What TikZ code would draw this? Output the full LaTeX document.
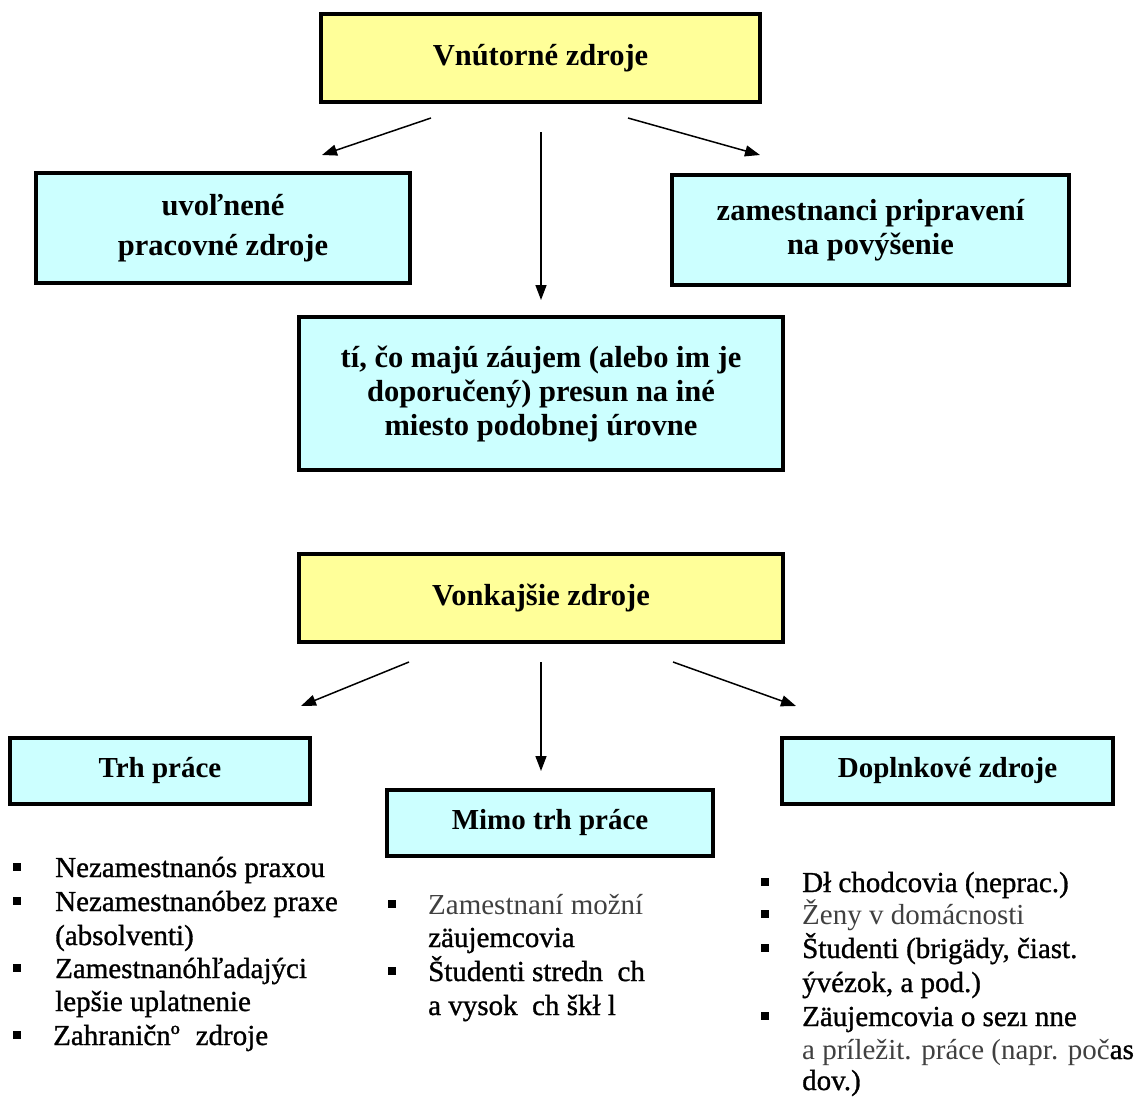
\documentclass[tikz,border=0pt]{standalone}
\usepackage{fontspec}
\setmainfont{Liberation Serif}
\newfontfamily\heavyfont[FakeBold=1]{Liberation Serif}
\usetikzlibrary{arrows.meta}
\definecolor{boxyellow}{HTML}{FFFF99}
\definecolor{boxcyan}{HTML}{CCFFFF}
\definecolor{thintext}{HTML}{404040}
\begin{document}
\begin{tikzpicture}[x=1pt,y=-1pt,
  box/.style={draw=black, line width=3.2pt, inner sep=0pt, align=center, font=\fontsize{30.5}{34}\selectfont\bfseries},
  hdr/.style={box, fill=boxyellow},
  sub/.style={box, fill=boxcyan},
  cat/.style={box, fill=boxcyan, font=\fontsize{29}{33}\selectfont\bfseries},
  arr/.style={line width=1.5pt, -{Triangle[length=15pt,width=11pt]}},
  listitem/.style={anchor=base west, inner sep=0pt, font=\fontsize{29}{33}\selectfont\heavyfont},
  greyitem/.style={anchor=base west, inner sep=0pt, font=\fontsize{29}{33}\selectfont, text=thintext},
  sqbullet/.style={fill=black, minimum size=8pt, inner sep=0pt}
]
\useasboundingbox (0,0) rectangle (1136,1098);
\fill[white] (0,0) rectangle (1136,1098);

% internal sources
\node[hdr, minimum width=439pt, minimum height=88pt] (vz) at (540.5,58) {Vnútorné zdroje};
\node[sub, minimum width=374pt, minimum height=110pt] (uv) at (223,228) {uvoľnené\\[6pt]pracovné zdroje};
\node[sub, minimum width=397pt, minimum height=110pt] (zp) at (870.5,230) {zamestnanci pripravení\\na povýšenie};
\node[sub, minimum width=484pt, minimum height=153pt] (ti) at (541,393.5) {tí, čo majú záujem (alebo im je\\doporučený) presun na iné\\miesto podobnej úrovne};

\coordinate (a1s) at (431,118); \coordinate (a1e) at (322,155);
\coordinate (a2s) at (541,132); \coordinate (a2e) at (541,300);
\coordinate (a3s) at (628,118); \coordinate (a3e) at (760,155);
\draw[arr] (a1s) -- (a1e);
\draw[arr] (a2s) -- (a2e);
\draw[arr] (a3s) -- (a3e);

% external sources
\node[hdr, minimum width=484pt, minimum height=88pt] (vk) at (541,598) {Vonkajšie zdroje};
\node[cat, minimum width=300pt, minimum height=66pt] (trh) at (160,771) {Trh práce};
\node[cat, minimum width=326pt, minimum height=66pt] (mimo) at (550,823) {Mimo trh práce};
\node[cat, minimum width=331pt, minimum height=66pt] (dop) at (947.5,771) {Doplnkové zdroje};

\coordinate (b1s) at (409,662); \coordinate (b1e) at (301,706);
\coordinate (b2s) at (541,662); \coordinate (b2e) at (541,771);
\coordinate (b3s) at (673,662); \coordinate (b3e) at (796,706);
\draw[arr] (b1s) -- (b1e);
\draw[arr] (b2s) -- (b2e);
\draw[arr] (b3s) -- (b3e);

% left list
\node[sqbullet] (lb1) at (17,867) {};
\node[sqbullet] (lb2) at (17,901) {};
\node[sqbullet] (lb3) at (17,968) {};
\node[sqbullet] (lb4) at (17,1035) {};
\node[listitem] (l1) at (55,877) {Nezamestnanós praxou};
\node[listitem] (l2) at (55,911) {Nezamestnanóbez praxe};
\node[listitem] (l3) at (55,945) {(absolventi)};
\node[listitem] (l4) at (55,978) {Zamestnanóhľadajýci};
\node[listitem] (l5) at (55,1011) {lepšie uplatnenie};
\node[listitem] (l6) at (53,1045) {Zahraničnº\hspace{0.3em} zdroje};

% middle list
\node[sqbullet] (mb1) at (392,904) {};
\node[sqbullet] (mb2) at (392,971) {};
\node[greyitem] (m1) at (428,914) {Zamestnaní možní};
\node[listitem] (m2) at (428,947) {zäujemcovia};
\node[listitem] (m3) at (428,981) {Študenti stredn\hspace{0.5em}ch};
\node[listitem] (m4) at (428,1015) {a vysok\hspace{0.5em}ch škł l};

% right list
\node[sqbullet] (rb1) at (765,882) {};
\node[sqbullet] (rb2) at (765,914) {};
\node[sqbullet] (rb3) at (765,948) {};
\node[sqbullet] (rb4) at (765,1016) {};
\node[listitem] (r1) at (802,892) {Dł chodcovia (neprac.)};
\node[greyitem] (r2) at (802,924) {Ženy v domácnosti};
\node[listitem] (r3) at (802,958) {Študenti (brigädy, čiast.};
\node[listitem] (r4) at (802,992) {ývézok, a pod.)};
\node[listitem] (r5) at (802,1026) {Zäujemcovia o sezı nne};
\node[greyitem] (r6) at (802,1059) {a príležit. práce (napr. poč{\color{black}\heavyfont as}};
\node[listitem] (r7) at (802,1090) {dov.)};
\end{tikzpicture}
\end{document}
